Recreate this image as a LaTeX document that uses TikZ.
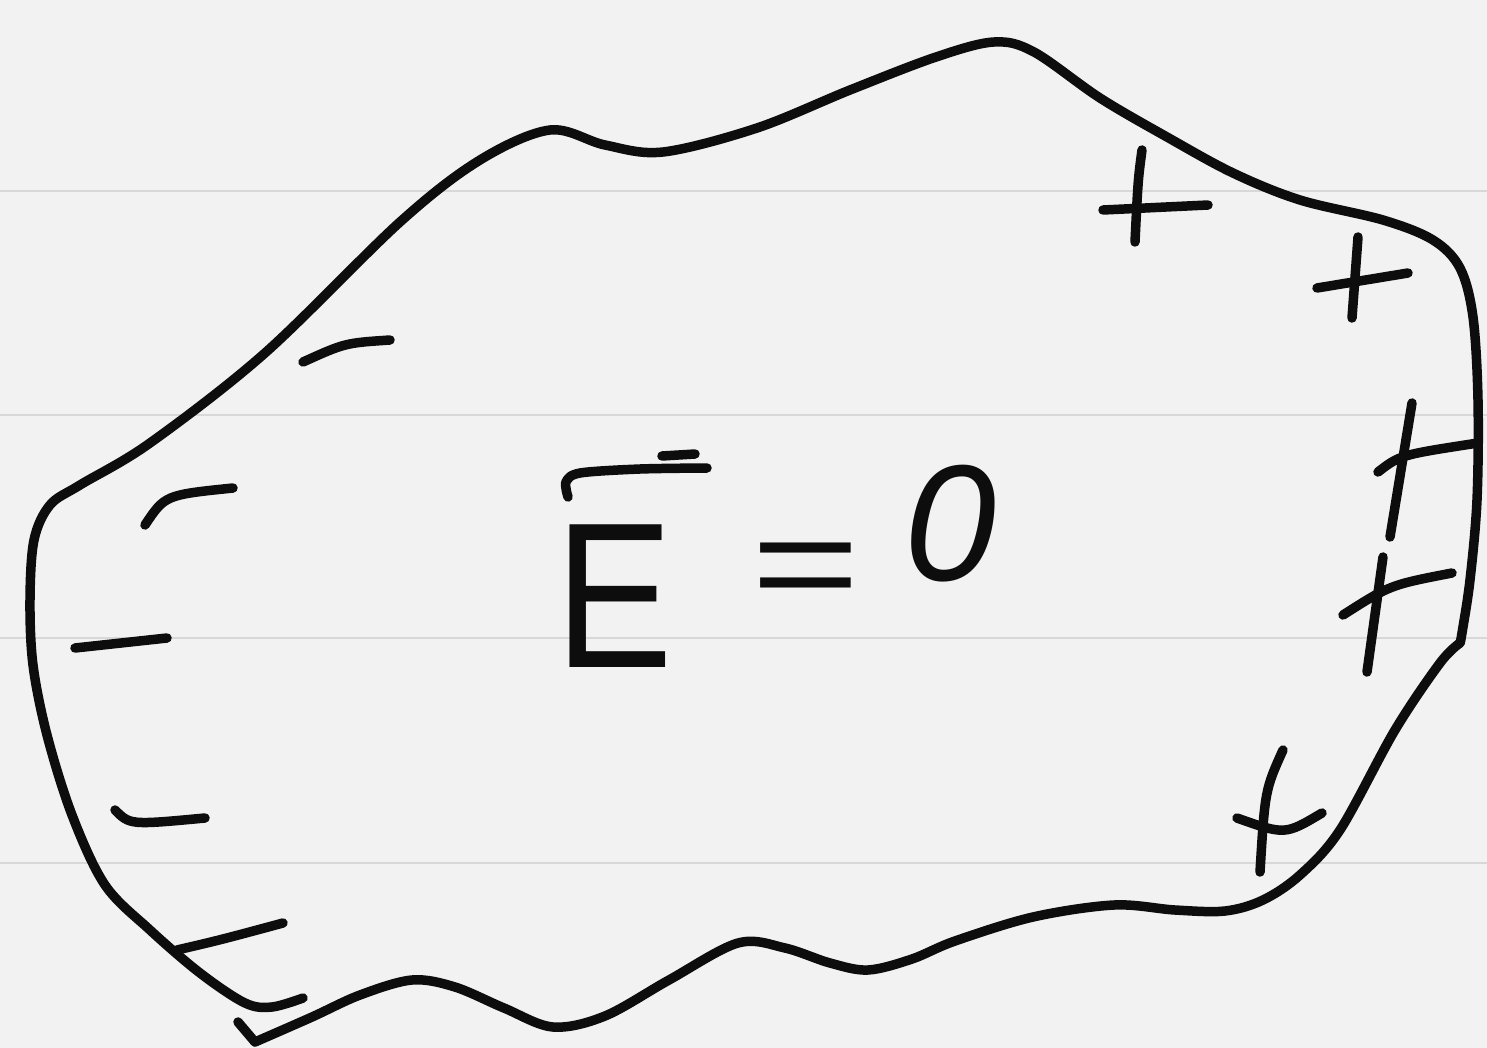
\documentclass[tikz,border=0pt]{standalone}
\usepackage{graphicx}
\usepackage{fontspec}
\setmainfont{Liberation Sans}
\definecolor{paper}{HTML}{F2F2F2}
\definecolor{rulegray}{HTML}{D8D8D8}
\definecolor{inkc}{HTML}{0D0D0D}
\begin{document}
\begin{tikzpicture}[x=0.01cm,y=-0.01cm,
  pen/.style={draw=inkc,line width=2.7pt,line cap=round,line join=round},
  ruleline/.style={draw=rulegray,line width=0.6pt},
  txt/.style={inner sep=0pt,text=inkc}]
\fill[paper] (0,0) rectangle (1487,1048);
\useasboundingbox (0,0) rectangle (1487,1048);
\foreach \yy in {191,415,638,863} \draw[ruleline] (0,\yy) -- (1487,\yy);
% main outline
\draw[pen] plot[smooth,tension=0.55] coordinates {(303,998) (272,1007) (245,1003) (200,973) (150,930) (105,885) (72,815) (47,735) (33,665) (30,600) (34,540) (50,505) (80,485) (150,443) (265,353) (400,222) (480,160) (550,130) (605,145) (663,152) (757,128) (850,90) (936,57) (994,42) (1034,52) (1100,98) (1167,137) (1233,173) (1300,200) (1383,220) (1433,240) (1460,268) (1473,317) (1478,400) (1477,500) (1470,580) (1462,633) (1460,643)};
% bottom wavy stroke
\draw[pen] (238,1022) -- (255,1042);
\draw[pen] plot[smooth,tension=0.55] coordinates {(255,1042) (312,1017) (360,995) (412,980) (455,987) (504,1008) (553,1027) (605,1016) (669,980) (738,943) (785,948) (830,963) (868,970) (912,959) (955,941) (1033,917) (1114,905) (1175,910) (1225,911) (1263,900) (1300,875) (1340,830) (1395,730) (1440,663) (1460,643)};
% plus charges
\draw[pen] (1142,150) .. controls (1138,180) .. (1135,242);
\draw[pen] (1103,210) -- (1208,205);
\draw[pen] (1358,237) -- (1352,318);
\draw[pen] (1317,288) -- (1408,273);
\draw[pen] (1412,403) -- (1390,537);
\draw[pen] (1378,472) .. controls (1400,455) .. (1478,443);
\draw[pen] (1383,557) -- (1367,672);
\draw[pen] (1343,615) .. controls (1390,585) .. (1452,573);
\draw[pen] (1283,750) .. controls (1265,790) .. (1260,872);
\draw[pen] (1237,818) .. controls (1285,835) .. (1322,813);
% minus charges
\draw[pen] (303,362) .. controls (345,343) .. (390,340);
\draw[pen] (145,525) .. controls (165,495) .. (233,488);
\draw[pen] (75,648) -- (167,638);
\draw[pen] (115,810) .. controls (130,825) .. (205,818);
\draw[pen] (177,950) .. controls (220,940) .. (283,923);
% E-bar = 0
\node[txt,anchor=base] (E) at (614,667) {\fontsize{59}{60}\selectfont\scalebox{0.85}[1]{E}};
\node[txt,anchor=base] (eq) at (806,611) {\fontsize{53}{54}\selectfont\scalebox{1}[0.75]{=}};
\node[txt,anchor=base] (zero) at (950,580) {\fontsize{47}{48}\selectfont\itshape 0};
\draw[pen] plot[smooth,tension=0.5] coordinates {(568,497) (566,482) (580,473) (640,469) (707,468)};
\draw[pen] (662,456) -- (695,454);
\end{tikzpicture}
\end{document}
